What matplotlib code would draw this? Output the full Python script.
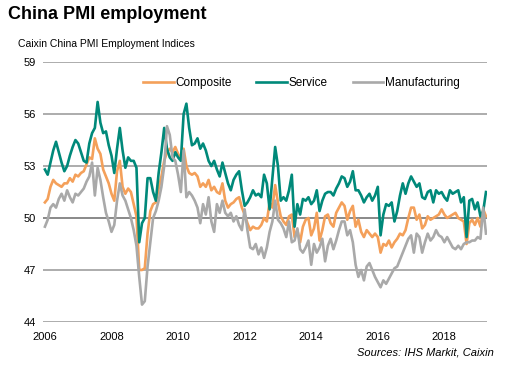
import numpy as np
import matplotlib
matplotlib.use('Agg')
import matplotlib.pyplot as plt

plt.rcParams['font.family'] = ['Liberation Sans', 'DejaVu Sans']

# Monthly index readings, Jan 2006 - Apr 2019
composite = [
    50.9, 51.1, 51.8, 52.2, 52.0, 51.9, 51.8, 52.0, 52.0, 52.3, 52.1, 52.5,
    52.4, 52.6, 52.7, 53.1, 53.5, 53.4, 54.6, 54.0, 53.7, 52.8, 52.4, 52.0,
    51.4, 51.0, 52.7, 53.3, 51.8, 51.4, 51.7, 51.5, 50.8, 50.1, 47.0, 47.0,
    47.1, 49.1, 50.4, 50.8, 50.9, 51.7, 52.4, 53.3, 53.8, 54.0, 53.8, 54.1,
    53.7, 53.4, 54.0, 53.0, 52.6, 52.5, 52.6, 52.4, 51.8, 52.0, 51.8, 52.2,
    51.6, 51.8, 51.5, 51.4, 52.0, 51.0, 50.6, 50.8, 50.9, 51.1, 51.2, 50.6,
    50.2, 49.7, 49.3, 49.5, 49.4, 49.4, 49.6, 50.0, 49.8, 50.9, 50.6, 51.9,
    50.9, 50.1, 49.8, 49.6, 50.1, 50.2, 48.9, 49.3, 48.6, 49.5, 49.9, 50.0,
    49.0, 49.4, 50.3, 48.7, 49.3, 50.1, 50.2, 49.7, 49.5, 50.3, 50.6, 50.9,
    50.7, 49.9, 50.4, 50.7, 49.5, 49.9, 49.2, 48.9, 49.3, 49.1, 48.9, 49.1,
    48.9, 48.0, 48.5, 48.4, 48.7, 48.3, 48.6, 48.8, 49.1, 49.0, 49.3, 50.0,
    50.6, 50.6, 49.9, 50.2, 49.4, 49.6, 50.1, 49.9, 50.0, 50.1, 50.2, 50.5,
    50.2, 50.0, 50.1, 50.2, 50.3, 50.0, 49.9, 49.8, 48.5, 49.7, 49.9, 49.6,
    50.0, 49.5, 50.5, 50.1,
]
service = [
    52.8, 52.5, 53.2, 53.9, 54.4, 53.8, 53.2, 52.7, 53.0, 53.6, 54.1, 54.5,
    54.3, 53.8, 53.3, 53.2, 54.3, 54.9, 55.2, 56.7, 55.5, 54.9, 55.0, 54.2,
    53.6, 52.6, 54.0, 55.2, 53.9, 52.9, 53.5, 53.3, 53.3, 52.9, 48.6, 49.7,
    50.0, 52.3, 52.3, 51.5, 51.0, 52.6, 53.8, 55.2, 54.0, 53.5, 53.3, 53.8,
    53.5, 53.3, 56.0, 56.6, 55.2, 54.2, 54.3, 54.6, 54.0, 54.3, 53.9, 53.3,
    53.0, 53.3, 52.8, 52.4, 53.2, 52.6, 52.0, 51.6, 52.2, 52.5, 52.7, 51.6,
    50.7, 50.9, 51.2, 51.6, 51.3, 51.4, 51.2, 52.5, 52.0, 50.5, 52.3, 54.1,
    53.0, 51.0, 51.2, 51.0, 51.6, 52.5, 49.5, 50.8, 50.2, 51.1, 51.0, 51.2,
    50.8, 51.0, 51.6, 50.4, 51.0, 51.4, 51.5, 51.5, 51.3, 51.7, 52.0, 52.4,
    52.3, 51.8, 52.1, 52.7, 51.6, 51.6, 51.3, 50.9, 51.2, 51.4, 51.0, 51.3,
    51.8, 49.0, 50.2, 50.8, 50.7, 50.9, 49.8, 50.4, 51.3, 52.0, 51.4, 52.0,
    52.4, 52.1, 51.8, 52.0, 51.2, 51.1, 51.5, 51.6, 50.9, 51.6, 51.4, 51.5,
    51.2, 51.0, 51.6, 51.4, 51.5, 51.6, 50.9, 51.2, 48.9, 51.0, 51.1, 50.5,
    50.9, 50.1, 50.4, 51.5,
]
manufacturing = [
    49.5, 49.9, 50.6, 50.8, 50.6, 51.1, 51.4, 51.0, 51.6, 51.2, 50.9, 51.4,
    51.3, 51.5, 51.7, 52.1, 52.4, 53.2, 51.3, 52.9, 52.2, 51.2, 50.3, 49.8,
    49.2, 49.6, 51.0, 52.0, 51.3, 51.0, 50.5, 50.0, 49.3, 48.4, 46.6, 45.0,
    45.2, 47.2, 48.6, 50.0, 50.4, 51.0, 51.8, 53.0, 55.3, 54.8, 53.5, 53.3,
    52.5, 51.5, 53.9, 51.2, 51.5, 51.3, 51.0, 50.6, 49.7, 50.8, 50.2, 51.2,
    49.8, 49.2, 50.8, 50.3, 51.0, 50.3, 50.1, 50.3, 49.8, 50.1, 49.6, 49.3,
    50.5, 49.3, 48.3, 48.2, 48.5, 47.9, 48.3, 47.7, 48.3, 49.2, 49.8, 51.0,
    49.9, 49.7, 49.4, 48.9, 49.8, 48.6, 48.7, 49.4, 48.2, 48.0, 48.3, 48.7,
    47.3, 48.5, 48.0, 48.3, 48.8, 47.5, 48.4, 48.8, 48.2, 48.7, 49.3, 49.8,
    49.8, 49.0, 49.3, 48.6, 47.3, 46.6, 47.0, 46.4, 47.2, 47.4, 47.0, 46.6,
    46.3, 46.0, 46.4, 46.2, 46.5, 46.8, 47.1, 47.2, 47.6, 48.0, 48.4, 48.8,
    49.0, 48.0, 49.1, 48.9, 48.0, 48.6, 49.1, 48.7, 48.9, 49.3, 49.0, 48.9,
    48.6, 48.9, 48.6, 48.3, 48.2, 48.4, 48.2, 48.5, 48.6, 48.6, 48.7, 48.7,
    48.9, 48.8, 50.6, 49.1,
]
dates = 2006 + np.arange(len(composite)) / 12.0

yticks = [44, 47, 50, 53, 56, 59]
xticks = [2006, 2008, 2010, 2012, 2014, 2016, 2018]

fig = plt.figure(figsize=(5.11, 3.81), dpi=100)
ax = fig.add_axes([0.084, 0.155, 0.869, 0.682])

for y in yticks:
    ax.axhline(y, color='#808080' if y == 50 else '#a6a6a6', lw=1.3, zorder=1)

ax.plot(dates, composite, color='#f4a05a', lw=1.9, label='Composite', zorder=3)
ax.plot(dates, service, color='#00897a', lw=1.9, label='Service', zorder=3)
ax.plot(dates, manufacturing, color='#a9a9a9', lw=1.9, label='Manufacturing', zorder=4)

ax.set_xlim(2005.94, 2019.28)
ax.set_ylim(44, 59)
ax.set_yticks(yticks)
ax.set_xticks(xticks)
ax.tick_params(length=0, labelsize=8)
ax.tick_params(axis='x', pad=7)
ax.tick_params(axis='y', pad=5)
for s in ax.spines.values():
    s.set_visible(False)

ax.legend(loc='upper center', bbox_to_anchor=(0.582, 1.0), ncol=3, frameon=False,
          fontsize=8.5, handlelength=2.6, handletextpad=0.15, columnspacing=2.1,
          borderaxespad=0.9)

fig.text(0.016, 0.962, 'China PMI employment', fontsize=13, fontweight='bold',
         va='center')
fig.text(0.035, 0.884, 'Caixin China PMI Employment Indices', fontsize=7.5,
         va='center')
fig.text(0.966, 0.076, 'Sources: IHS Markit, Caixin', fontsize=8, style='italic',
         ha='right', va='center')

fig.savefig('out.png', dpi=100)
